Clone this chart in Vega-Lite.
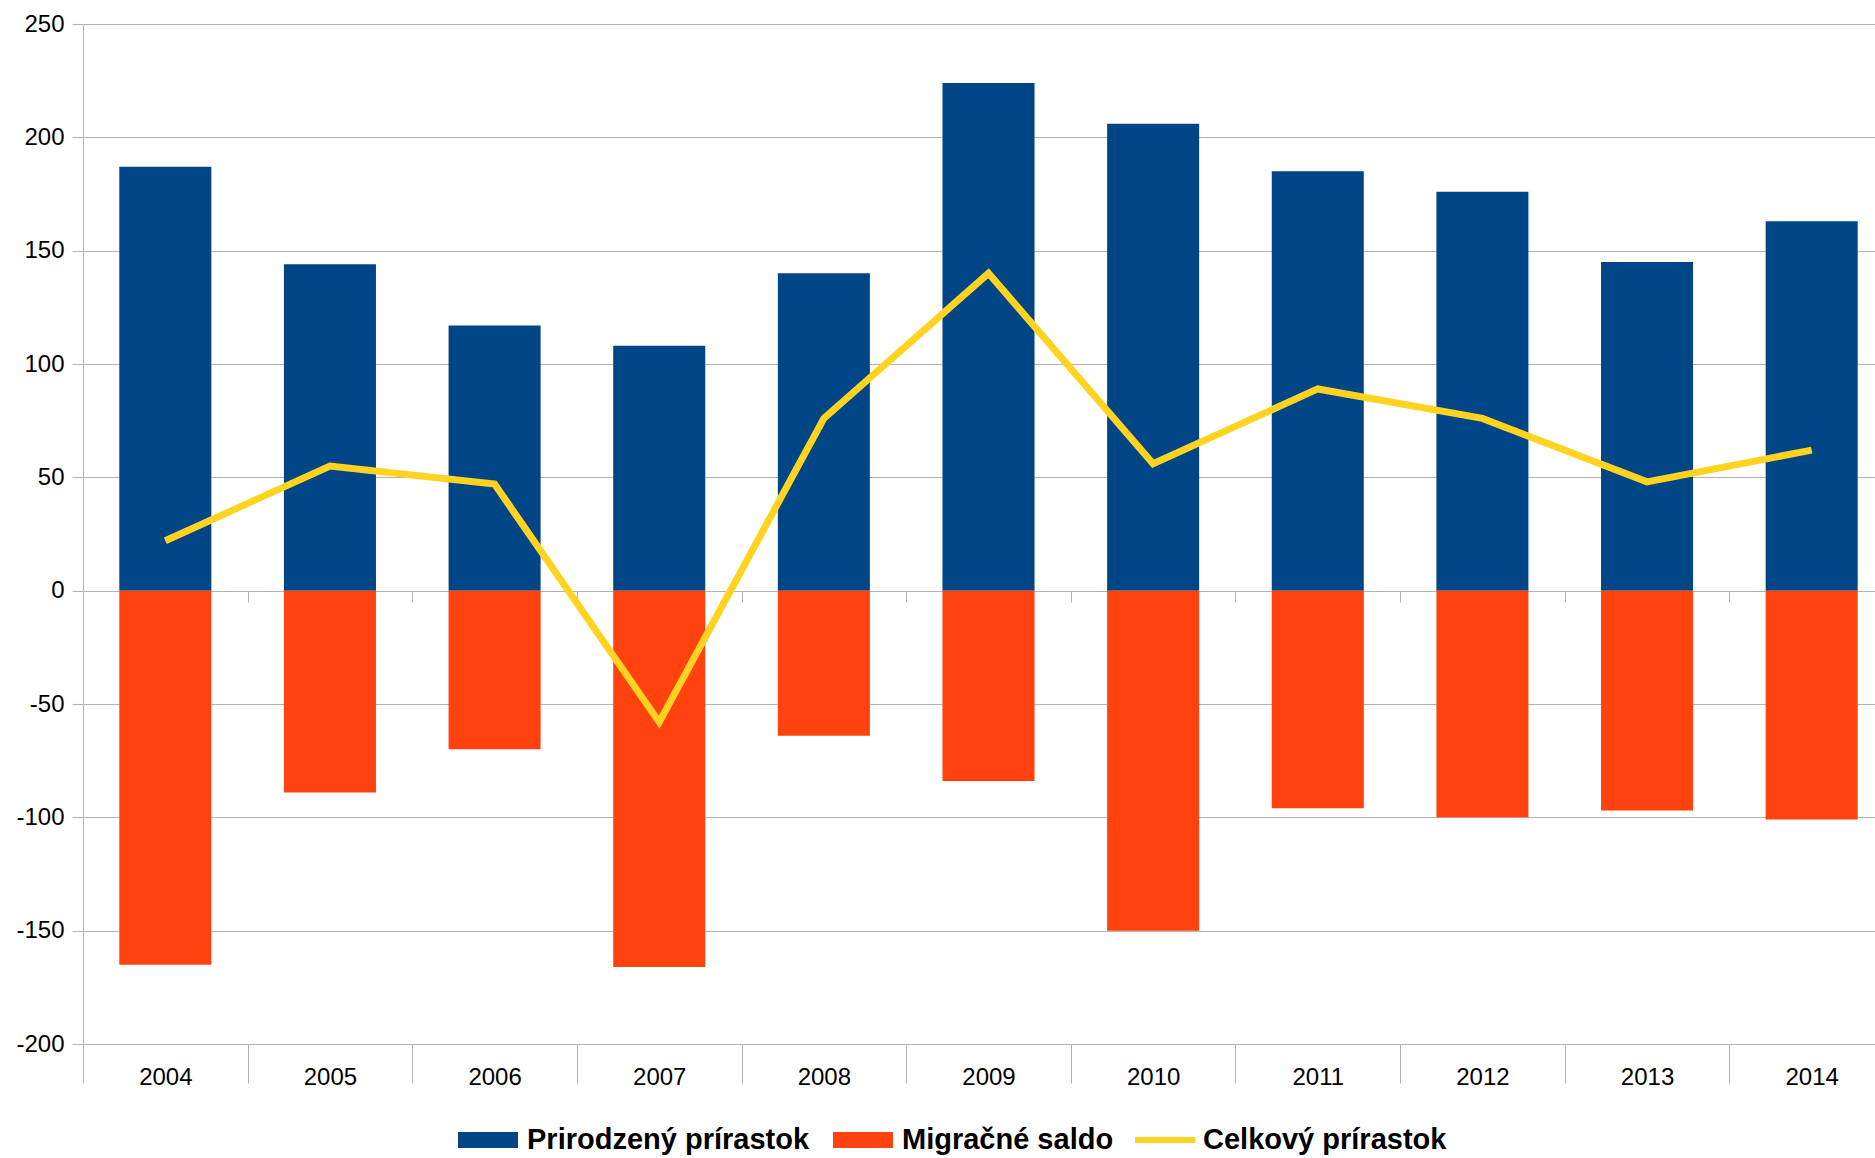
{
  "$schema": "https://vega.github.io/schema/vega-lite/v6.json",
  "width": 1792,
  "height": 1020,
  "autosize": {"type": "none"},
  "padding": {"left": 83, "top": 24, "right": 0, "bottom": 114},
  "background": "white",
  "config": {
    "view": {"stroke": null},
    "font": "Liberation Sans",
    "legend": {"padding": 0}
  },
  "datasets": {
    "bars": [
      {"year": "2004", "series": "Prirodzený prírastok", "value": 187},
      {"year": "2005", "series": "Prirodzený prírastok", "value": 144},
      {"year": "2006", "series": "Prirodzený prírastok", "value": 117},
      {"year": "2007", "series": "Prirodzený prírastok", "value": 108},
      {"year": "2008", "series": "Prirodzený prírastok", "value": 140},
      {"year": "2009", "series": "Prirodzený prírastok", "value": 224},
      {"year": "2010", "series": "Prirodzený prírastok", "value": 206},
      {"year": "2011", "series": "Prirodzený prírastok", "value": 185},
      {"year": "2012", "series": "Prirodzený prírastok", "value": 176},
      {"year": "2013", "series": "Prirodzený prírastok", "value": 145},
      {"year": "2014", "series": "Prirodzený prírastok", "value": 163},
      {"year": "2004", "series": "Migračné saldo", "value": -165},
      {"year": "2005", "series": "Migračné saldo", "value": -89},
      {"year": "2006", "series": "Migračné saldo", "value": -70},
      {"year": "2007", "series": "Migračné saldo", "value": -166},
      {"year": "2008", "series": "Migračné saldo", "value": -64},
      {"year": "2009", "series": "Migračné saldo", "value": -84},
      {"year": "2010", "series": "Migračné saldo", "value": -150},
      {"year": "2011", "series": "Migračné saldo", "value": -96},
      {"year": "2012", "series": "Migračné saldo", "value": -100},
      {"year": "2013", "series": "Migračné saldo", "value": -97},
      {"year": "2014", "series": "Migračné saldo", "value": -101}
    ],
    "total": [
      {"year": "2004", "series": "Celkový prírastok", "value": 22},
      {"year": "2005", "series": "Celkový prírastok", "value": 55},
      {"year": "2006", "series": "Celkový prírastok", "value": 47},
      {"year": "2007", "series": "Celkový prírastok", "value": -58},
      {"year": "2008", "series": "Celkový prírastok", "value": 76},
      {"year": "2009", "series": "Celkový prírastok", "value": 140},
      {"year": "2010", "series": "Celkový prírastok", "value": 56},
      {"year": "2011", "series": "Celkový prírastok", "value": 89},
      {"year": "2012", "series": "Celkový prírastok", "value": 76},
      {"year": "2013", "series": "Celkový prírastok", "value": 48},
      {"year": "2014", "series": "Celkový prírastok", "value": 62}
    ]
  },
  "layer": [
    {
      "data": {"name": "bars"},
      "mark": {"type": "bar"},
      "encoding": {
        "x": {
          "field": "year",
          "type": "ordinal",
          "scale": {"range": [0, 1811], "paddingInner": 0.441, "paddingOuter": 0.2205},
          "axis": {
            "orient": "bottom",
            "title": null,
            "labelAngle": 0,
            "labelFontSize": 24,
            "labelColor": "black",
            "labelFont": "Liberation Sans",
            "tickBand": "center",
            "tickOffset": -82.32,
            "labelOffset": 82.32,
            "tickSize": 39,
            "tickColor": "#b3b3b3",
            "domainColor": "#b3b3b3",
            "labelPadding": -18,
            "grid": false
          }
        },
        "y": {
          "field": "value",
          "type": "quantitative",
          "stack": null,
          "scale": {"domain": [-200, 250], "nice": false},
          "axis": {
            "title": null,
            "values": [-200, -150, -100, -50, 0, 50, 100, 150, 200, 250],
            "labelExpr": "'' + datum.value",
            "labelFontSize": 24,
            "labelColor": "black",
            "labelFont": "Liberation Sans",
            "tickSize": 11,
            "tickColor": "#b3b3b3",
            "domainColor": "#b3b3b3",
            "gridColor": "#b3b3b3",
            "labelPadding": 8
          }
        },
        "color": {
          "field": "series",
          "type": "nominal",
          "sort": null,
          "scale": {"domain": ["Prirodzený prírastok", "Migračné saldo"], "range": ["#004586", "#FF420E"]},
          "legend": {
            "orient": "none",
            "legendX": 375,
            "legendY": 1086,
            "direction": "horizontal",
            "title": null,
            "symbolType": "M-1,-0.267H1V0.267H-1Z",
            "symbolSize": 3600,
            "symbolStrokeWidth": 0,
            "symbolOpacity": 1,
            "labelFontSize": 29,
            "labelFontWeight": "bold",
            "labelColor": "black",
            "labelFont": "Liberation Sans",
            "labelOffset": 9,
            "columnPadding": 23,
            "labelLimit": 600
          }
        }
      }
    },
    {
      "data": {"name": "total"},
      "mark": {"type": "line", "strokeWidth": 7, "strokeJoin": "miter", "strokeCap": "butt"},
      "encoding": {
        "x": {
          "field": "year",
          "type": "ordinal",
          "axis": {
            "orient": "bottom",
            "title": null,
            "labels": false,
            "domain": false,
            "grid": false,
            "tickBand": "center",
            "tickOffset": -82.32,
            "tickSize": 11,
            "tickColor": "#b3b3b3",
            "offset": -453
          }
        },
        "y": {"field": "value", "type": "quantitative"},
        "stroke": {
          "field": "series",
          "type": "nominal",
          "scale": {"domain": ["Celkový prírastok"], "range": ["#FFD320"]},
          "legend": {
            "orient": "none",
            "legendX": 1049,
            "legendY": 1083,
            "title": null,
            "symbolType": "stroke",
            "symbolSize": 3600,
            "symbolStrokeWidth": 6,
            "labelFontSize": 29,
            "labelFontWeight": "bold",
            "labelColor": "black",
            "labelFont": "Liberation Sans",
            "labelOffset": 5,
            "labelLimit": 600
          }
        }
      }
    }
  ],
  "resolve": {"axis": {"x": "independent"}}
}
